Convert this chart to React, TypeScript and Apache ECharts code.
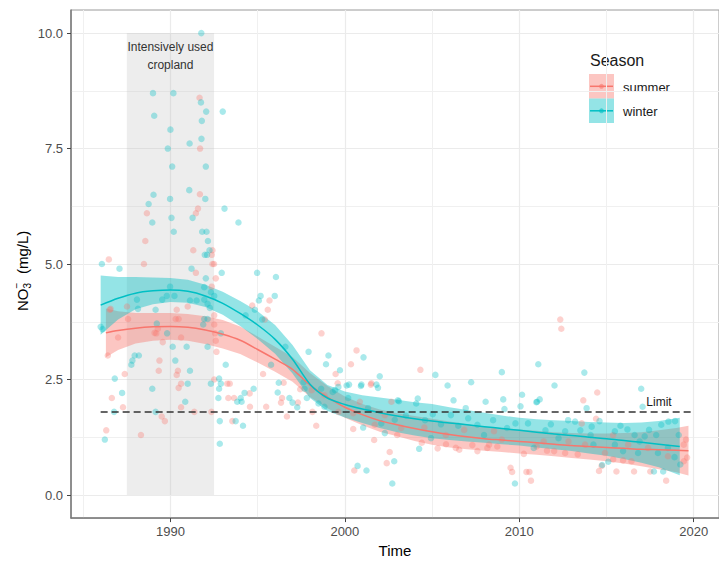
import React, { useEffect, useRef } from "react";
import * as echarts from "echarts";

// ---- axis ticks ----
const xMajorTicks = [1990, 2000, 2010, 2020];
const xMinorTicks = [1985, 1995, 2005, 2015];
const yMajorTicks = [0, 2.5, 5, 7.5, 10];
const yMinorTicks = [1.25, 3.75, 6.25, 8.75];

// ---- shaded period & limit ----
const croplandPeriod = [1987.5, 1992.5];
const croplandRange = [0, 10];
const limitValue = 1.8;
const limitSpan = [1986, 2020];

// ---- smooth fits (loess) with confidence bands ----
const winterYears = [1986, 1987, 1988, 1989, 1990, 1991, 1992, 1993, 1994, 1995, 1996, 1997, 1998, 1999, 2000, 2001, 2002, 2003, 2004, 2005, 2006, 2007, 2008, 2009, 2010, 2011, 2012, 2013, 2014, 2015, 2016, 2017, 2018, 2019.2];
const winterFit = [4.11, 4.26, 4.37, 4.42, 4.44, 4.41, 4.31, 4.15, 3.93, 3.68, 3.37, 2.94, 2.40, 2.10, 1.96, 1.86, 1.78, 1.71, 1.65, 1.60, 1.56, 1.52, 1.48, 1.44, 1.40, 1.36, 1.32, 1.29, 1.25, 1.22, 1.18, 1.14, 1.10, 1.05];
const winterLower = [3.47, 3.80, 4.02, 4.13, 4.18, 4.16, 4.07, 3.90, 3.66, 3.38, 3.06, 2.63, 2.10, 1.82, 1.68, 1.56, 1.45, 1.36, 1.29, 1.23, 1.19, 1.16, 1.13, 1.10, 1.07, 1.03, 0.99, 0.95, 0.90, 0.85, 0.78, 0.70, 0.60, 0.43];
const winterUpper = [4.75, 4.72, 4.72, 4.71, 4.70, 4.66, 4.55, 4.40, 4.20, 3.98, 3.68, 3.25, 2.70, 2.38, 2.24, 2.16, 2.11, 2.06, 2.01, 1.97, 1.90, 1.84, 1.78, 1.72, 1.67, 1.64, 1.62, 1.60, 1.58, 1.57, 1.56, 1.57, 1.60, 1.67];

const summerYears = [1986.3, 1987, 1988, 1989, 1990, 1991, 1992, 1993, 1994, 1995, 1996, 1997, 1998, 1999, 2000, 2001, 2002, 2003, 2004, 2005, 2006, 2007, 2008, 2009, 2010, 2011, 2012, 2013, 2014, 2015, 2016, 2017, 2018, 2019, 2019.7];
const summerFit = [3.51, 3.56, 3.61, 3.64, 3.65, 3.63, 3.57, 3.48, 3.35, 3.15, 2.94, 2.72, 2.38, 2.12, 1.90, 1.74, 1.61, 1.52, 1.44, 1.37, 1.31, 1.26, 1.22, 1.19, 1.16, 1.13, 1.10, 1.07, 1.05, 1.03, 1.01, 0.99, 0.98, 0.97, 0.96];
const summerLower = [2.98, 3.14, 3.28, 3.34, 3.36, 3.34, 3.27, 3.17, 3.05, 2.87, 2.67, 2.45, 2.12, 1.88, 1.67, 1.51, 1.37, 1.27, 1.17, 1.09, 1.03, 0.99, 0.96, 0.93, 0.90, 0.87, 0.84, 0.80, 0.77, 0.73, 0.68, 0.62, 0.56, 0.49, 0.42];
const summerUpper = [4.04, 3.98, 3.94, 3.94, 3.94, 3.92, 3.87, 3.79, 3.65, 3.43, 3.21, 2.99, 2.64, 2.36, 2.13, 1.97, 1.85, 1.77, 1.71, 1.65, 1.59, 1.53, 1.48, 1.45, 1.42, 1.39, 1.36, 1.34, 1.33, 1.33, 1.34, 1.36, 1.40, 1.45, 1.50];

// ---- observations [year, NO3 mg/L] ----
const winterPoints = [
  [1991.77, 10.0], [1989.0, 8.70], [1990.17, 8.70], [1991.75, 8.50], [1992.05, 8.30], [1993.0, 8.30], [1989.07, 8.21], [1991.8, 8.10], [1990.0, 7.91], [1991.78, 7.71], [1991.1, 7.61], [1989.85, 7.50], [1990.1, 7.11], [1992.03, 7.11], [1991.08, 6.60], [1989.03, 6.50], [1988.75, 6.30], [1989.98, 6.41], [1992.0, 6.41], [1993.1, 6.20], [1990.06, 6.00], [1991.27, 6.00], [1988.96, 5.90], [1993.9, 5.90], [1990.19, 5.70], [1991.82, 5.70], [1992.07, 5.70], [1992.15, 5.50], [1992.24, 5.30], [1991.97, 5.20], [1992.1, 5.20], [1986.07, 5.00], [1987.08, 4.90], [1991.21, 4.90], [1992.94, 4.81], [1994.97, 4.81], [1996.05, 4.72],
  [1995.17, 4.31], [1995.07, 4.21], [1995.98, 4.31], [1994.84, 4.01], [1994.31, 3.89], [1995.26, 3.80], [1996.59, 3.21], [1997.92, 3.10], [1999.06, 3.02], [1998.92, 2.83], [2001.07, 2.98], [1995.77, 2.82], [1999.72, 2.70], [2002.0, 2.57], [1996.21, 2.43], [2000.24, 2.39], [2000.95, 2.39], [2001.81, 2.39],
  [1992.03, 4.69], [1991.94, 4.50], [1989.98, 4.51], [1992.32, 4.39], [1992.51, 4.31], [1989.79, 4.31], [1990.23, 4.31], [1989.53, 4.23], [1988.08, 4.23], [1991.12, 4.21], [1991.5, 4.21], [1991.94, 4.23], [1992.13, 4.14], [1992.26, 4.05], [1988.14, 4.03], [1989.15, 4.01], [1992.13, 3.81], [1991.94, 3.81], [1989.22, 3.71], [1989.81, 3.50], [1991.88, 3.69], [1992.89, 3.50], [1986.11, 3.59], [1986.0, 3.64], [1990.13, 3.21], [1990.93, 3.21], [1992.13, 3.21], [1990.28, 2.91], [1987.95, 3.02], [1988.19, 3.02], [1987.82, 2.91], [1987.76, 2.82], [1991.12, 2.69], [1986.81, 2.52], [1990.99, 2.41], [1992.79, 2.52], [1993.17, 2.82],
  [1987.23, 2.21], [1986.77, 1.80], [1988.96, 2.30], [1989.15, 1.80], [1986.24, 1.20], [1990.85, 2.02], [1992.32, 2.41], [1992.89, 2.41], [1992.79, 2.30], [1992.75, 2.10], [1994.03, 2.10], [1993.83, 2.02], [1994.08, 2.02], [1994.25, 2.21], [1992.83, 1.60], [1993.74, 1.60], [1994.16, 1.50], [1992.83, 1.11],
  [1994.77, 2.30], [1996.15, 2.22], [1996.82, 2.10], [1997.0, 2.00], [1997.27, 1.90], [1997.82, 2.10], [1997.69, 2.30], [1998.64, 2.30], [1998.83, 1.91], [1999.44, 2.27], [2000.19, 2.10], [2001.05, 1.46], [2000.73, 0.63], [2001.24, 0.53], [2000.92, 2.36], [2001.9, 2.32], [2002.29, 1.34], [2002.83, 0.73], [2002.72, 0.25], [2003.1, 2.03], [2000.1, 2.37], [1999.3, 2.23], [2001.33, 1.88], [2002.86, 1.63], [1998.49, 1.98], [2002.09, 1.55], [1997.63, 2.44], [1999.63, 2.34],
  [2005.19, 2.60], [2005.89, 2.37], [2007.24, 2.44], [2009.0, 2.66], [2011.09, 2.83], [2012.02, 2.37], [2006.23, 2.05], [2008.07, 2.02], [2009.08, 2.07], [2010.16, 2.17], [2010.07, 1.92], [2011.17, 2.07], [2010.98, 2.01], [2004.18, 2.09], [2004.09, 1.98], [2003.04, 2.05], [2005.04, 1.75], [2006.08, 1.73], [2006.93, 1.88], [2009.15, 1.86], [2007.07, 1.66], [2009.78, 1.55], [2011.81, 1.53], [2004.26, 1.00], [2009.75, 0.25], [2005.51, 1.53], [2007.6, 1.52], [2007.98, 1.30], [2010.83, 1.02], [2004.94, 1.23],
  [2013.73, 2.65], [2016.99, 2.30], [2017.07, 1.91], [2013.86, 1.88], [2013.2, 1.59], [2011.02, 2.02], [2014.75, 0.65], [2017.72, 0.51], [2018.25, 0.51],
  [2014.15, 1.48], [2015.48, 1.38], [2017.44, 1.41], [2018.14, 1.52], [2018.55, 1.59], [2018.93, 1.60], [2019.14, 1.30], [2017.85, 1.30], [2017.19, 1.27], [2014.09, 1.30], [2012.63, 1.38], [2015.1, 0.72], [2019.23, 0.66], [2014.25, 1.09], [2015.48, 1.09], [2015.95, 0.95], [2016.81, 0.91], [2017.95, 0.91], [2018.52, 1.02], [2018.9, 0.82], [2016.61, 1.30], [2016.9, 1.16], [2012.25, 1.23],
  [2003.5, 1.72], [2004.6, 1.62], [2006.5, 1.50], [2008.5, 1.62], [2009.3, 1.45], [2010.5, 1.55], [2011.5, 1.40], [2012.8, 1.62], [2013.5, 1.40], [2014.6, 1.60], [2015.8, 1.50], [2016.2, 1.42],
];

const summerPoints = [
  [1991.67, 8.60], [1991.7, 7.50], [1991.69, 6.51], [1991.58, 6.20], [1988.65, 6.10], [1991.46, 6.10], [1988.56, 5.50], [1992.41, 5.30], [1991.31, 5.30], [1992.37, 5.20], [1986.47, 5.10], [1992.41, 5.00], [1992.5, 5.00], [1988.48, 5.00], [1991.46, 4.81],
  [1998.66, 3.50], [2000.67, 3.13], [2000.35, 2.83], [1995.31, 2.62], [1999.47, 2.62], [1996.49, 2.43], [1999.59, 2.42], [2001.52, 2.42],
  [1995.68, 4.21], [1994.69, 4.10], [1995.58, 4.01], [1995.41, 3.80],
  [1992.6, 4.69], [1992.37, 4.51], [1990.99, 4.08], [1986.57, 4.03], [1987.51, 4.08], [1990.36, 4.01], [1990.47, 3.81], [1990.3, 3.81], [1992.51, 3.89], [1987.57, 3.81], [1989.28, 3.60], [1989.19, 3.50], [1992.51, 3.69], [1992.56, 3.50], [1987.0, 3.41], [1992.6, 3.34], [1986.41, 3.02], [1989.37, 2.91], [1989.33, 2.69], [1990.43, 2.69], [1987.38, 2.62], [1990.36, 2.60], [1990.61, 2.41], [1993.26, 2.41], [1992.64, 3.10], [1990.61, 3.41], [1989.56, 3.31], [1986.53, 4.01], [1989.09, 3.51],
  [1986.64, 2.10], [1987.28, 1.90], [1989.5, 1.70], [1989.68, 1.60], [1986.32, 1.40], [1988.31, 1.30], [1990.47, 2.32], [1990.61, 1.90], [1991.37, 1.80], [1992.35, 1.80], [1992.51, 2.50], [1993.4, 2.41], [1993.32, 2.10], [1993.65, 2.10], [1993.55, 1.60],
  [1994.54, 2.20], [1994.56, 1.91], [1995.49, 1.91], [1996.4, 2.10], [1996.34, 2.00], [1997.31, 2.00], [1996.68, 1.70], [1997.44, 2.29], [1998.83, 2.16], [1998.36, 1.50], [1998.14, 1.80], [2000.48, 1.43], [2000.54, 0.53], [2001.68, 1.19], [2001.49, 2.39], [2002.57, 0.93], [2002.4, 0.69], [2002.67, 2.02], [2000.86, 2.02], [2000.48, 1.77], [2002.29, 1.73], [1999.63, 1.80], [2001.71, 1.52], [2003.23, 1.45], [1998.1, 2.27],
  [2004.33, 2.71], [2009.5, 0.59], [2009.59, 0.50], [2010.41, 0.50], [2010.58, 0.50], [2010.67, 0.31], [2004.41, 1.13], [2005.32, 1.01], [2006.36, 1.02], [2006.56, 0.98], [2007.31, 1.08], [2007.6, 0.95], [2008.27, 1.09], [2008.74, 1.05], [2010.26, 0.89], [2011.59, 0.96], [2004.56, 1.46], [2006.84, 1.41], [2005.79, 1.30], [2008.55, 1.38], [2011.4, 1.16], [2008.17, 1.02],
  [2012.35, 3.80], [2012.41, 3.60], [2014.47, 2.22], [2013.67, 2.05], [2014.4, 1.65], [2014.57, 0.52], [2014.72, 0.63], [2015.57, 0.51], [2016.58, 0.51], [2017.51, 0.51], [2018.42, 0.31],
  [2013.58, 1.55], [2019.56, 1.20], [2019.43, 1.09], [2019.62, 0.81], [2019.43, 0.73], [2018.52, 0.84], [2012.63, 0.91], [2013.35, 0.88], [2015.38, 0.77], [2015.95, 0.75], [2016.43, 0.73], [2013.77, 1.09], [2014.91, 0.91], [2016.24, 1.09], [2017.38, 1.02], [2015.38, 1.30], [2012.82, 1.16],
  [2003.0, 1.30], [2005.8, 1.10], [2009.0, 1.20], [2011.0, 1.05], [2012.0, 0.95],
];

const SUMMER = "#F8766D";
const WINTER = "#00BFC4";
const FONT = "'Liberation Sans', Arial, sans-serif";

function bandSeries(name: string, years: number[], lower: number[], upper: number[], fill: string) {
  return {
    name,
    type: "custom",
    silent: true,
    data: years.map((y, i) => [y, lower[i], upper[i]]),
    encode: { x: 0, y: [1, 2] },
    renderItem: (params: any, api: any) => {
      if (params.dataIndex !== 0) return null;
      const pts: number[][] = [];
      for (let i = 0; i < years.length; i++) pts.push(api.coord([years[i], upper[i]]));
      for (let i = years.length - 1; i >= 0; i--) pts.push(api.coord([years[i], lower[i]]));
      return { type: "polygon", shape: { points: pts }, style: { fill } };
    },
  };
}

export default function App() {
  const ref = useRef<HTMLDivElement>(null);
  useEffect(() => {
    if (!ref.current) return;
    const chart = echarts.init(ref.current, null, { renderer: "svg" });
    const xMin = 1984.3;
    const xMax = 2021.45;
    const yMin = -0.5;
    const yMax = 10.5;
    const option: any = {
      animation: false,
      backgroundColor: "#ffffff",
      textStyle: { fontFamily: FONT },
      grid: {
        left: 71, top: 10, width: 652, height: 514,
        show: true, borderColor: "#9a9a9a", borderWidth: 1, backgroundColor: "#ffffff",
      },
      xAxis: [
        {
          type: "value", min: xMin, max: xMax,
          name: "Time", nameLocation: "middle", nameGap: 23,
          nameTextStyle: { fontSize: 15, color: "#000", fontFamily: FONT },
          axisLine: { show: true, onZero: false, lineStyle: { color: "#7a7a7a", width: 1.5 } },
          axisTick: { show: true, length: 4, customValues: xMajorTicks, lineStyle: { color: "#444" } },
          axisLabel: {
            customValues: xMajorTicks, fontSize: 13, color: "#4d4d4d", margin: 7, fontFamily: FONT,
            formatter: (v: number) => String(Math.round(v)),
          },
          splitLine: { show: true, lineStyle: { color: "#ebebeb", width: 1.2 } },
        },
        {
          type: "value", min: xMin, max: xMax, position: "bottom",
          axisLine: { show: false, onZero: false }, axisLabel: { show: false },
          axisTick: { show: false, customValues: xMinorTicks },
          splitLine: { show: true, lineStyle: { color: "#f0f0f0", width: 1 } },
        },
      ],
      yAxis: [
        {
          type: "value", min: yMin, max: yMax,
          axisLine: { show: true, onZero: false, lineStyle: { color: "#7a7a7a", width: 1.5 } },
          axisTick: { show: true, length: 4, customValues: yMajorTicks, lineStyle: { color: "#444" } },
          axisLabel: {
            customValues: yMajorTicks, fontSize: 13, color: "#4d4d4d", margin: 8, fontFamily: FONT,
            formatter: (v: number) => v.toFixed(1),
          },
          splitLine: { show: true, lineStyle: { color: "#ebebeb", width: 1.2 } },
        },
        {
          type: "value", min: yMin, max: yMax, position: "left",
          axisLine: { show: false, onZero: false }, axisLabel: { show: false },
          axisTick: { show: false, customValues: yMinorTicks },
          splitLine: { show: true, lineStyle: { color: "#f0f0f0", width: 1 } },
        },
      ],
      series: [
        {
          name: "cropland", type: "line", data: [[croplandPeriod[0], croplandRange[0]]],
          showSymbol: false, silent: true, lineStyle: { width: 0 },
          markArea: {
            silent: true,
            itemStyle: { color: "rgba(190,190,190,0.27)" },
            label: {
              show: true, position: "insideTop", distance: 5,
              formatter: "Intensively used\ncropland",
              fontSize: 12, lineHeight: 18, color: "#333", fontFamily: FONT,
            },
            data: [[
              { xAxis: croplandPeriod[0], yAxis: croplandRange[0] },
              { xAxis: croplandPeriod[1], yAxis: croplandRange[1] },
            ]],
          },
        },
        {
          name: "summer points", type: "scatter", data: summerPoints, symbolSize: 6.5,
          itemStyle: { color: "rgba(248,118,109,0.42)" }, silent: true,
        },
        {
          name: "winter points", type: "scatter", data: winterPoints, symbolSize: 6.5,
          itemStyle: { color: "rgba(0,191,196,0.42)" }, silent: true,
        },
        bandSeries("summer band", summerYears, summerLower, summerUpper, "rgba(248,118,109,0.42)"),
        {
          name: "summer", type: "line", data: summerYears.map((y, i) => [y, summerFit[i]]),
          showSymbol: false, smooth: 0.3, silent: true,
          lineStyle: { color: SUMMER, width: 1.5 },
        },
        bandSeries("winter band", winterYears, winterLower, winterUpper, "rgba(0,191,196,0.42)"),
        {
          name: "winter", type: "line", data: winterYears.map((y, i) => [y, winterFit[i]]),
          showSymbol: false, smooth: 0.3, silent: true,
          lineStyle: { color: WINTER, width: 1.5 },
          markLine: {
            silent: true, symbol: ["none", "none"],
            lineStyle: { color: "#333", type: [7, 4], width: 1.6 },
            label: {
              show: true, position: "insideEndTop", formatter: "Limit",
              fontSize: 12, color: "#1a1a1a", distance: [22, 4], fontFamily: FONT,
            },
            data: [[
              { coord: [limitSpan[0], limitValue] },
              { coord: [limitSpan[1], limitValue] },
            ]],
          },
        },
      ],
      graphic: [
        {
          type: "group", x: 22, y: 270, rotation: Math.PI / 2, silent: true,
          children: [
            { type: "text", x: -41, y: 0, style: { text: "NO", fontSize: 15, fontFamily: FONT, fill: "#000", align: "left", verticalAlign: "middle", textAlign: "left", textVerticalAlign: "middle" } },
            { type: "text", x: -18.5, y: 5, style: { text: "3", fontSize: 10, fontFamily: FONT, fill: "#000", align: "left", verticalAlign: "middle", textAlign: "left", textVerticalAlign: "middle" } },
            { type: "text", x: -18.5, y: -6, style: { text: "\u2212", fontSize: 10, fontFamily: FONT, fill: "#000", align: "left", verticalAlign: "middle", textAlign: "left", textVerticalAlign: "middle" } },
            { type: "text", x: -4, y: 0, style: { text: "(mg/L)", fontSize: 15, fontFamily: FONT, fill: "#000", align: "left", verticalAlign: "middle", textAlign: "left", textVerticalAlign: "middle" } },
          ],
        },
        { type: "rect", shape: { x: 583, y: 43, width: 92, height: 89 }, style: { fill: "#ffffff" }, silent: true },
        { type: "text", x: 590, y: 60, style: { text: "Season", fontSize: 16, fontFamily: FONT, fill: "#1a1a1a", align: "left", verticalAlign: "middle", textAlign: "left", textVerticalAlign: "middle" }, silent: true },
        { type: "rect", shape: { x: 589, y: 74, width: 25, height: 24.5 }, style: { fill: "rgba(248,118,109,0.42)" }, silent: true },
        { type: "line", shape: { x1: 590, y1: 86.3, x2: 613, y2: 86.3 }, style: { stroke: SUMMER, lineWidth: 1.5 }, silent: true },
        { type: "circle", shape: { cx: 601.5, cy: 86.3, r: 2.5 }, style: { fill: "rgba(248,118,109,0.6)" }, silent: true },
        { type: "rect", shape: { x: 589, y: 98.5, width: 25, height: 24.5 }, style: { fill: "rgba(0,191,196,0.42)" }, silent: true },
        { type: "line", shape: { x1: 590, y1: 110.8, x2: 613, y2: 110.8 }, style: { stroke: WINTER, lineWidth: 1.5 }, silent: true },
        { type: "circle", shape: { cx: 601.5, cy: 110.8, r: 2.5 }, style: { fill: "rgba(0,191,196,0.6)" }, silent: true },
        { type: "text", x: 623, y: 87, style: { text: "summer", fontSize: 13, fontFamily: FONT, fill: "#1a1a1a", align: "left", verticalAlign: "middle", textAlign: "left", textVerticalAlign: "middle" }, silent: true },
        { type: "text", x: 623, y: 111, style: { text: "winter", fontSize: 13, fontFamily: FONT, fill: "#1a1a1a", align: "left", verticalAlign: "middle", textAlign: "left", textVerticalAlign: "middle" }, silent: true },
      ],
    };
    chart.setOption(option);
    return () => chart.dispose();
  }, []);
  return <div ref={ref} style={{ position: "absolute", left: 0, top: 0, width: 719, height: 563 }} />;
}
